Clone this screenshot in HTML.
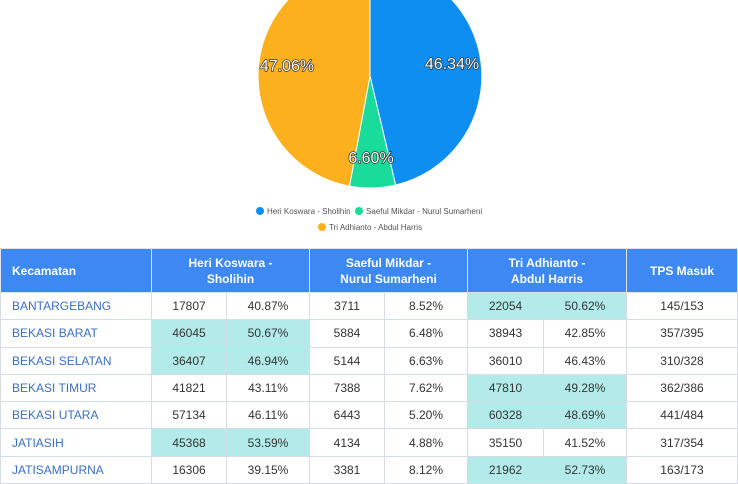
<!DOCTYPE html>
<html><head><meta charset="utf-8"><style>
body{margin:0;width:738px;height:480px;overflow:hidden;background:#fff;font-family:"Liberation Sans",sans-serif;position:relative}
svg{position:absolute;left:0;top:0}
.lg{position:absolute;font-size:8px;color:#555;white-space:nowrap}
.lg span{display:inline-block;width:8px;height:8px;border-radius:50%;vertical-align:-1px;margin-right:3px}
table{position:absolute;left:0;top:248px;border-collapse:collapse;width:738px;font-size:12px;color:#333}
th{background:#3d88f2;color:#fff;font-weight:bold;height:43px;padding:0;border:1px solid #dde3ea;text-align:center;line-height:16px}
th.l{text-align:left;padding-left:11px}
td{height:26.3px;padding:0;border:1px solid #d6dce3;text-align:center}
td.k{text-align:left;padding-left:11px;color:#3a6fc6}
td.h{background:#b3ebeb}
</style></head><body>
<svg width="738" height="200">
<path d="M370,76 L370,-36 A112,112 0 0 1 395.6,185 Z" fill="#0f8ef2" stroke="#fff" stroke-width="1"/>
<path d="M370,76 L395.6,185 A112,112 0 0 1 349.5,186.1 Z" fill="#19dc9b" stroke="#fff" stroke-width="1"/>
<path d="M370,76 L349.5,186.1 A112,112 0 0 1 370,-36 Z" fill="#fdb01d" stroke="#fff" stroke-width="1"/>
<g font-size="16" fill="#fff" stroke="#222" stroke-width="1.3" paint-order="stroke" text-anchor="middle" font-family="Liberation Sans,sans-serif">
<text x="452" y="69">46.34%</text><text x="371" y="163">6.60%</text><text x="287" y="71">47.06%</text></g>
</svg>
<div class="lg" style="left:256px;top:207px"><span style="background:#0f8ef2"></span>Heri Koswara - Sholihin &nbsp;<span style="background:#19dc9b"></span>Saeful Mikdar - Nurul Sumarheni</div>
<div class="lg" style="left:318px;top:223px"><span style="background:#fdb01d"></span>Tri Adhianto - Abdul Harris</div>
<table>
<colgroup><col style="width:151px"><col style="width:75px"><col style="width:83px"><col style="width:75px"><col style="width:83px"><col style="width:76px"><col style="width:83px"><col></colgroup>
<tr><th class="l">Kecamatan</th><th colspan="2">Heri Koswara -<br>Sholihin</th><th colspan="2">Saeful Mikdar -<br>Nurul Sumarheni</th><th colspan="2">Tri Adhianto -<br>Abdul Harris</th><th>TPS Masuk</th></tr>
<tr><td class="k">BANTARGEBANG</td><td>17807</td><td>40.87%</td><td>3711</td><td>8.52%</td><td class="h">22054</td><td class="h">50.62%</td><td>145/153</td></tr>
<tr><td class="k">BEKASI BARAT</td><td class="h">46045</td><td class="h">50.67%</td><td>5884</td><td>6.48%</td><td>38943</td><td>42.85%</td><td>357/395</td></tr>
<tr><td class="k">BEKASI SELATAN</td><td class="h">36407</td><td class="h">46.94%</td><td>5144</td><td>6.63%</td><td>36010</td><td>46.43%</td><td>310/328</td></tr>
<tr><td class="k">BEKASI TIMUR</td><td>41821</td><td>43.11%</td><td>7388</td><td>7.62%</td><td class="h">47810</td><td class="h">49.28%</td><td>362/386</td></tr>
<tr><td class="k">BEKASI UTARA</td><td>57134</td><td>46.11%</td><td>6443</td><td>5.20%</td><td class="h">60328</td><td class="h">48.69%</td><td>441/484</td></tr>
<tr><td class="k">JATIASIH</td><td class="h">45368</td><td class="h">53.59%</td><td>4134</td><td>4.88%</td><td>35150</td><td>41.52%</td><td>317/354</td></tr>
<tr><td class="k">JATISAMPURNA</td><td>16306</td><td>39.15%</td><td>3381</td><td>8.12%</td><td class="h">21962</td><td class="h">52.73%</td><td>163/173</td></tr>
</table>
</body></html>
